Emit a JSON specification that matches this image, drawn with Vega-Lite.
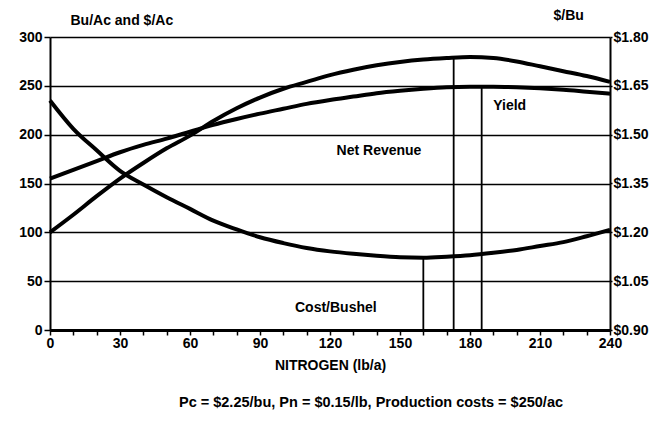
{
  "$schema": "https://vega.github.io/schema/vega-lite/v6.json",
  "width": 560,
  "height": 293,
  "autosize": {"type": "none"},
  "padding": {"left": 50, "top": 37, "right": 58, "bottom": 93},
  "config": {
    "font": "Liberation Sans",
    "view": {"stroke": null},
    "axis": {
      "labelFont": "Liberation Sans",
      "labelFontWeight": "bold",
      "labelFontSize": 14,
      "labelColor": "black",
      "titleFont": "Liberation Sans",
      "titleFontWeight": "bold",
      "titleFontSize": 14,
      "titleColor": "black",
      "domainColor": "black",
      "domainWidth": 2,
      "tickColor": "black",
      "tickWidth": 1.5,
      "gridColor": "black",
      "gridWidth": 1.3,
      "gridOpacity": 1
    }
  },
  "title": {
    "text": "Pc = $2.25/bu, Pn = $0.15/lb, Production costs = $250/ac",
    "orient": "bottom",
    "anchor": "middle",
    "dx": 41,
    "offset": 24,
    "font": "Liberation Sans",
    "fontSize": 14.5,
    "fontWeight": "bold",
    "color": "black"
  },
  "datasets": {
    "curves": [
      {"N": 0, "yield": 155, "net": 100, "cost": 1.605},
      {"N": 10, "yield": 164, "net": 118, "cost": 1.518},
      {"N": 20, "yield": 173, "net": 137, "cost": 1.452},
      {"N": 30, "yield": 182, "net": 155, "cost": 1.389},
      {"N": 40, "yield": 189.5, "net": 171, "cost": 1.347},
      {"N": 50, "yield": 196, "net": 186, "cost": 1.308},
      {"N": 60, "yield": 203, "net": 199, "cost": 1.272},
      {"N": 70, "yield": 210, "net": 214, "cost": 1.236},
      {"N": 80, "yield": 216, "net": 227, "cost": 1.209},
      {"N": 90, "yield": 221.5, "net": 238, "cost": 1.185},
      {"N": 100, "yield": 226.5, "net": 247, "cost": 1.167},
      {"N": 110, "yield": 231.5, "net": 254, "cost": 1.152},
      {"N": 120, "yield": 235.5, "net": 261, "cost": 1.1415},
      {"N": 130, "yield": 239, "net": 266.5, "cost": 1.134},
      {"N": 140, "yield": 242.5, "net": 271, "cost": 1.128},
      {"N": 150, "yield": 245, "net": 274.5, "cost": 1.1235},
      {"N": 160, "yield": 247, "net": 277, "cost": 1.122},
      {"N": 170, "yield": 248.5, "net": 278.5, "cost": 1.125},
      {"N": 180, "yield": 249, "net": 279.5, "cost": 1.1295},
      {"N": 190, "yield": 249, "net": 278.5, "cost": 1.137},
      {"N": 200, "yield": 248.5, "net": 275, "cost": 1.146},
      {"N": 210, "yield": 247.5, "net": 270, "cost": 1.158},
      {"N": 220, "yield": 246, "net": 265, "cost": 1.17},
      {"N": 230, "yield": 244, "net": 260, "cost": 1.188},
      {"N": 240, "yield": 242, "net": 254, "cost": 1.2075}
    ],
    "rules": [
      {"N": 160, "top": 74, "bottom": 0},
      {"N": 173, "top": 279, "bottom": 0},
      {"N": 185, "top": 249, "bottom": 0}
    ],
    "labels": [
      {"label": "Yield", "N": 197, "v": 229},
      {"label": "Net Revenue", "N": 141, "v": 183},
      {"label": "Cost/Bushel", "N": 122.5, "v": 23}
    ]
  },
  "encoding": {
    "x": {
      "field": "N",
      "type": "quantitative",
      "scale": {"domain": [0, 240], "nice": false},
      "axis": {
        "values": [0, 10, 20, 30, 40, 50, 60, 70, 80, 90, 100, 110, 120, 130, 140, 150, 160, 170, 180, 190, 200, 210, 220, 230, 240],
        "labelExpr": "datum.value % 30 === 0 ? datum.label : ''",
        "title": "NITROGEN (lb/a)",
        "tickSize": 5,
        "labelPadding": 1,
        "titlePadding": 8,
        "domainWidth": 3,
        "grid": false,
        "labelFlush": false,
        "labelOverlap": false
      }
    }
  },
  "layer": [
    {
      "layer": [
        {
          "data": {"name": "curves"},
          "mark": {"type": "line", "color": "black", "strokeWidth": 4, "interpolate": "monotone"},
          "encoding": {
            "y": {
              "field": "yield",
              "type": "quantitative",
              "scale": {"domain": [0, 300], "nice": false},
              "axis": {
                "values": [0, 50, 100, 150, 200, 250, 300],
                "grid": true,
                "tickSize": 6,
                "labelPadding": 2,
                "title": "Bu/Ac and $/Ac",
                "titleAngle": 0,
                "titleAlign": "left",
                "titleBaseline": "alphabetic",
                "titleX": 20,
                "titleY": -13
              }
            }
          }
        },
        {
          "data": {"name": "curves"},
          "mark": {"type": "line", "color": "black", "strokeWidth": 4, "interpolate": "monotone"},
          "encoding": {
            "y": {"field": "net", "type": "quantitative"}
          }
        },
        {
          "data": {"name": "rules"},
          "mark": {"type": "rule", "color": "black", "strokeWidth": 1.8},
          "encoding": {
            "y": {"field": "top", "type": "quantitative"},
            "y2": {"field": "bottom"}
          }
        },
        {
          "data": {"name": "labels"},
          "mark": {"type": "text", "font": "Liberation Sans", "fontSize": 14, "fontWeight": "bold", "color": "black", "align": "center", "baseline": "middle"},
          "encoding": {
            "y": {"field": "v", "type": "quantitative"},
            "text": {"field": "label", "type": "nominal"}
          }
        }
      ]
    },
    {
      "data": {"name": "curves"},
      "mark": {"type": "line", "color": "black", "strokeWidth": 4, "interpolate": "monotone"},
      "encoding": {
        "y": {
          "field": "cost",
          "type": "quantitative",
          "scale": {"domain": [0.9, 1.8], "nice": false, "zero": false},
          "axis": {
            "orient": "right",
            "values": [0.9, 1.05, 1.2, 1.35, 1.5, 1.65, 1.8],
            "format": "$.2f",
            "grid": false,
            "tickSize": 2,
            "labelPadding": 1,
            "title": "$/Bu",
            "titleAngle": 0,
            "titleAlign": "left",
            "titleBaseline": "alphabetic",
            "titleX": -57,
            "titleY": -18
          }
        }
      }
    }
  ],
  "resolve": {"scale": {"y": "independent"}}
}
